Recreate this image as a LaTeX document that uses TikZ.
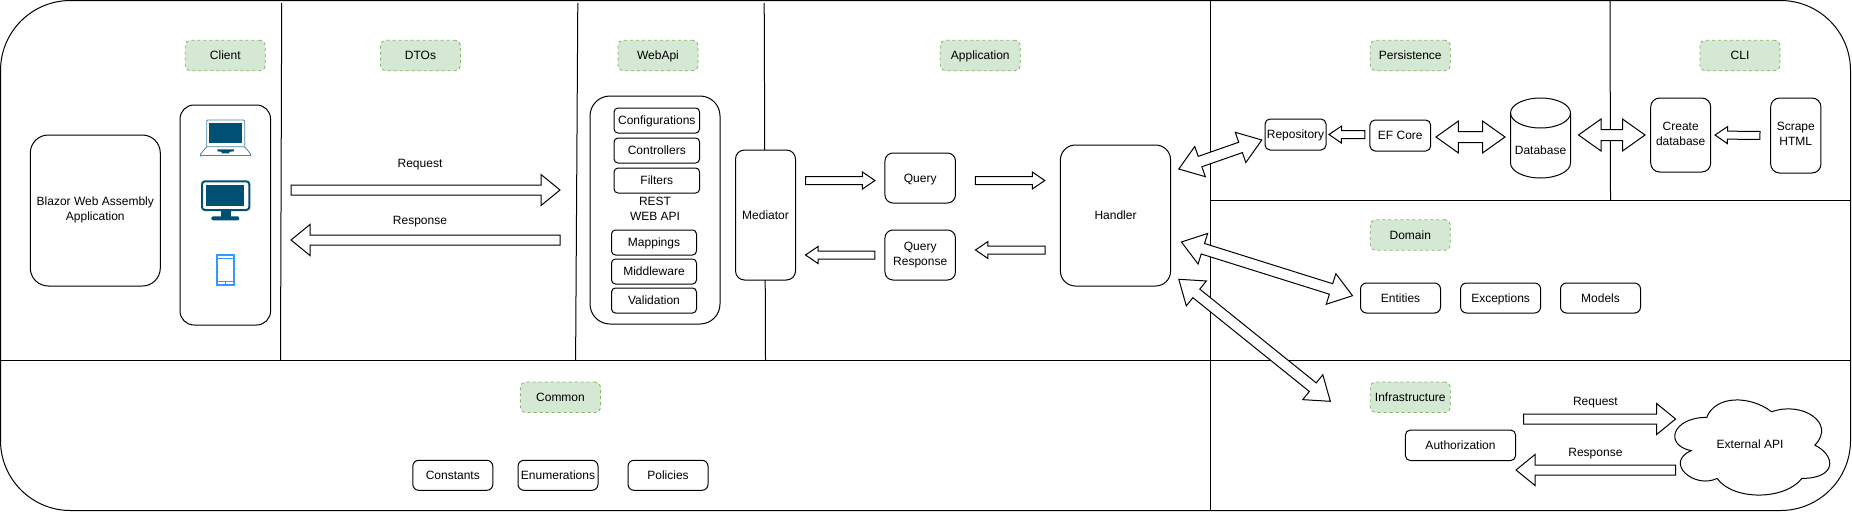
\documentclass[tikz,border=0pt]{standalone}
\usepackage{fontspec}
\setmainfont{Liberation Sans}
\usetikzlibrary{calc}
\definecolor{tagfill}{HTML}{D5E8D4}
\definecolor{tagline}{HTML}{82B366}
\definecolor{icondark}{HTML}{005073}
\definecolor{iconblue}{HTML}{3399FF}
\newcommand{\linestrut}{\rule[-3pt]{0pt}{14.4pt}}
\tikzset{
  box/.style={draw,line width=1pt,fill=white,rounded corners=#1,align=center,inner sep=0pt,outer sep=0pt},
  box/.default=6pt,
  smallbox/.style={box,minimum width=80pt,minimum height=30pt},
  tagbox/.style={draw=tagline,fill=tagfill,dashed,line width=0.8pt,rounded corners=5pt,minimum width=80pt,minimum height=30.5pt,inner sep=0pt,outer sep=0pt},
  blockone/.style n args={3}{draw,fill=white,line width=1pt,to path={
    ($(\tikztostart)!#1!90:(\tikztotarget)$)
    -- ($($(\tikztotarget)!#3!(\tikztostart)$)!#1!90:(\tikztotarget)$)
    -- ($($(\tikztotarget)!#3!(\tikztostart)$)!#2!90:(\tikztotarget)$)
    -- (\tikztotarget)
    -- ($($(\tikztotarget)!#3!(\tikztostart)$)!#2!-90:(\tikztotarget)$)
    -- ($($(\tikztotarget)!#3!(\tikztostart)$)!#1!-90:(\tikztotarget)$)
    -- ($(\tikztostart)!#1!-90:(\tikztotarget)$) -- cycle}},
  blocktwo/.style n args={3}{draw,fill=white,line width=1pt,to path={
    (\tikztostart)
    -- ($($(\tikztostart)!#3!(\tikztotarget)$)!#2!90:(\tikztotarget)$)
    -- ($($(\tikztostart)!#3!(\tikztotarget)$)!#1!90:(\tikztotarget)$)
    -- ($($(\tikztotarget)!#3!(\tikztostart)$)!#1!90:(\tikztotarget)$)
    -- ($($(\tikztotarget)!#3!(\tikztostart)$)!#2!90:(\tikztotarget)$)
    -- (\tikztotarget)
    -- ($($(\tikztotarget)!#3!(\tikztostart)$)!#2!-90:(\tikztotarget)$)
    -- ($($(\tikztotarget)!#3!(\tikztostart)$)!#1!-90:(\tikztotarget)$)
    -- ($($(\tikztostart)!#3!(\tikztotarget)$)!#1!-90:(\tikztotarget)$)
    -- ($($(\tikztostart)!#3!(\tikztotarget)$)!#2!-90:(\tikztotarget)$)
    -- cycle}},
  thinarrow/.style={blockone={4pt}{8.5pt}{12.5pt}},
  widearrow/.style={blockone={5pt}{15.5pt}{19pt}},
  fatarrow/.style={blocktwo={5.5pt}{16pt}{22.5pt}},
  every node/.append style={font=\fontsize{12}{15}\selectfont,execute at begin node=\linestrut,execute at end node=\linestrut}
}
\begin{document}
\begin{tikzpicture}[x=1pt,y=-1pt]
  \useasboundingbox (0,0) rectangle (1852,514);
  % regions
  \draw[line width=1pt,rounded corners=70pt] (0.5,0.5) rectangle (1850.5,510.5);
  \draw[line width=1pt] (0.5,360)--(1850.5,360);
  \draw[line width=1pt] (1210.5,0.5)--(1210.5,510.5);
  \draw[line width=1pt] (1210.5,200)--(1850.5,200);
  \draw[line width=1pt] (281.7,3)--(280.5,360);
  \draw[line width=1pt] (577.8,3)--(575.6,360);
  \draw[line width=1pt] (764.2,3)--(765.5,360);
  \draw[line width=1pt] (1610,0.5)--(1610.5,200);
  % tags
  \node[tagbox] (client) at (225.3,55.5) {Client};
  \node[tagbox] (dtos) at (420.5,55.5) {DTOs};
  \node[tagbox] (webapitag) at (658,55.5) {WebApi};
  \node[tagbox] (application) at (980.3,55.5) {Application};
  \node[tagbox] (persistence) at (1410.3,55.5) {Persistence};
  \node[tagbox] (cli) at (1740,55.5) {CLI};
  \node[tagbox] (domain) at (1410.3,235) {Domain};
  \node[tagbox] (infrastructure) at (1410.3,397.3) {Infrastructure};
  \node[tagbox] (common) at (560.5,397.3) {Common};
  % client side
  \node[box=18pt,minimum width=130pt,minimum height=151pt] (blazor) at (95.3,210.5) {Blazor Web Assembly\\Application};
  \node[box=14pt,minimum width=90.6pt,minimum height=220pt] (devices) at (225.3,215) {};
  % laptop
  \draw[icondark!70,line width=0.8pt,rounded corners=1pt] (206.7,146.7)--(206.7,120)--(244.7,120)--(244.7,146.7);
  \fill[icondark] (209.3,123.3) rectangle (242.3,143.3);
  \draw[icondark!70,line width=0.8pt,rounded corners=1pt] (206.7,146.7)--(200.5,154)--(200.5,155.5)--(250.7,155.5)--(250.7,154)--(244.7,146.7)--cycle;
  \fill[icondark] (217.3,149.3)--(234,149.3)--(234,151.3)--(229.3,151.8)--(229.3,153.3)--(221.7,153.3)--(221.7,151.8)--(217.3,151.3)--cycle;
  % monitor
  \draw[icondark,line width=2pt,rounded corners=3pt] (202,181.3) rectangle (249.3,210);
  \fill[icondark] (206.3,185.3) rectangle (244.3,206.3);
  \fill[icondark] (221,211) rectangle (230.7,217);
  \fill[icondark,rounded corners=2pt] (211.3,216.3) rectangle (239.3,220.3);
  % phone
  \draw[iconblue,line width=2pt] (216.7,255.3) rectangle (234.3,285.3);
  \draw[iconblue,line width=1pt] (216.4,258.3)--(234.6,258.3) (216.4,281.5)--(234.6,281.5) (225.5,282)--(225.5,285);
  % webapi
  \node[box=20pt,minimum width=130pt,minimum height=228pt] (webapi) at (655,210) {REST\\WEB API};
  \node[box=4pt,minimum width=85.6pt,minimum height=25pt] (configurations) at (656.8,120.5) {Configurations};
  \node[box=4pt,minimum width=85.6pt,minimum height=25pt] (controllers) at (656.8,150.5) {Controllers};
  \node[box=4pt,minimum width=85.6pt,minimum height=25pt] (filters) at (656.8,180.5) {Filters};
  \node[box=4pt,minimum width=85pt,minimum height=25pt] (mappings) at (654,242.5) {Mappings};
  \node[box=4pt,minimum width=85pt,minimum height=25pt] (middleware) at (654,271.5) {Middleware};
  \node[box=4pt,minimum width=85pt,minimum height=25pt] (validation) at (654,300.5) {Validation};
  % arrows of the client side
  \draw[widearrow] ([xshift=20.4pt,yshift=25pt]devices.east) to ([xshift=-30pt,yshift=20pt]webapi.west);
  \draw[widearrow] ([xshift=-30pt,yshift=-30pt]webapi.west) to ([xshift=20.4pt,yshift=-25pt]devices.east);
  \node (request) at (420,163) {Request};
  \node (response) at (420,220) {Response};
  % application
  \node[box=9pt,minimum width=60pt,minimum height=130pt] (mediator) at (765.5,215) {Mediator};
  \node[box=8pt,minimum width=70.5pt,minimum height=50pt] (query) at (920.2,178) {Query};
  \node[box=8pt,minimum width=70.5pt,minimum height=50pt] (queryresponse) at (920.2,255) {Query\\Response};
  \node[box=15pt,minimum width=110.2pt,minimum height=141pt] (handler) at (1115.5,215.5) {Handler};
  \draw[thinarrow] ([xshift=10pt,yshift=34.5pt]mediator.east) to ([xshift=-10pt,yshift=-2.5pt]query.west);
  \draw[thinarrow] ([xshift=20pt,yshift=-2.5pt]query.east) to ([xshift=-15.6pt,yshift=35pt]handler.west);
  \draw[thinarrow] ([xshift=-15.4pt,yshift=-34.5pt]handler.west) to ([xshift=20pt,yshift=5pt]queryresponse.east);
  \draw[thinarrow] ([xshift=-10pt]queryresponse.west) to ([xshift=10pt,yshift=-40pt]mediator.east);
  % persistence and cli
  \node[box=5pt,minimum width=61pt,minimum height=31pt] (repository) at (1295.5,134.5) {Repository};
  \node[box=5pt,minimum width=60.7pt,minimum height=31pt] (efcore) at (1400.3,135.5) {EF Core};
  \draw[line width=1pt,fill=white] (1510.5,113) arc[start angle=180,end angle=0,x radius=30pt,y radius=15pt]
    -- (1570.5,163) arc[start angle=0,end angle=-180,x radius=30pt,y radius=15pt] -- cycle;
  \draw[line width=1pt] (1510.5,113) arc[start angle=180,end angle=360,x radius=30pt,y radius=15pt];
  \node[minimum width=60pt,minimum height=80pt,inner sep=0pt,outer sep=0pt] (database) at (1540.5,138) {\raisebox{-12pt}[0pt][0pt]{Database}};
  \node[box=9pt,minimum width=60pt,minimum height=74pt] (createdb) at (1680.7,135) {Create\\database};
  \node[box=9pt,minimum width=50.3pt,minimum height=75pt] (scrape) at (1795.8,135.5) {Scrape\\HTML};
  \draw[thinarrow] ([xshift=-5pt,yshift=0.8pt]efcore.west) to ([xshift=3pt]repository.east);
  \draw[fatarrow] ([xshift=5.3pt,yshift=-1.5pt]efcore.east) to ([xshift=-5.5pt,yshift=1pt]database.west);
  \draw[fatarrow] ([xshift=8pt,yshift=3pt]database.east) to ([xshift=-5.7pt]createdb.west);
  \draw[thinarrow] ([xshift=-10.7pt]scrape.west) to ([xshift=4.3pt]createdb.east);
  % domain
  \node[smallbox] (entities) at (1400.5,298) {Entities};
  \node[smallbox] (exceptions) at (1500.6,298) {Exceptions};
  \node[smallbox] (models) at (1600.5,298) {Models};
  % common
  \node[smallbox] (constants) at (452.8,475.3) {Constants};
  \node[smallbox] (enumerations) at (558,475.3) {Enumerations};
  \node[smallbox] (policies) at (668,475.3) {Policies};
  % infrastructure
  \node[box=5pt,minimum width=110.2pt,minimum height=30.6pt] (authorization) at (1460.5,445.3) {Authorization};
  \draw[line width=1pt,fill=white,shift={(1663.5,389.6)},x=173pt,y=-111pt]
    (0.25,0.25) .. controls (0.05,0.25) and (0,0.5) .. (0.16,0.55)
    .. controls (0,0.66) and (0.18,0.9) .. (0.31,0.8)
    .. controls (0.4,1) and (0.7,1) .. (0.8,0.8)
    .. controls (1,0.8) and (1,0.6) .. (0.875,0.5)
    .. controls (1,0.3) and (0.8,0.1) .. (0.625,0.2)
    .. controls (0.5,0.05) and (0.3,0.05) .. (0.25,0.25) -- cycle;
  \node[minimum width=150pt,minimum height=90pt,inner sep=0pt,outer sep=0pt] (externalapi) at (1750,444.7) {External API};
  \draw[widearrow] ([xshift=8pt,yshift=26.3pt]authorization.east) to ([xshift=0.6pt,yshift=25.7pt]externalapi.west);
  \draw[widearrow] ([xshift=0.6pt,yshift=-25.3pt]externalapi.west) to ([xshift=0.4pt,yshift=-24.7pt]authorization.east);
  \node (apirequest) at (1595.4,401.7) {Request};
  \node (apiresponse) at (1595.4,452) {Response};
  % handler links
  \draw[fatarrow] ([xshift=8.2pt,yshift=46.5pt]handler.east) to ([xshift=-3.2pt,yshift=-5.5pt]repository.west);
  \draw[fatarrow] ([xshift=10.8pt,yshift=-26.5pt]handler.east) to ([xshift=-8pt,yshift=2.3pt]entities.west);
  \draw[fatarrow] ([xshift=8.2pt,yshift=-63.8pt]handler.east) to ([xshift=-40pt,yshift=-4pt]infrastructure.west);
\end{tikzpicture}
\end{document}
